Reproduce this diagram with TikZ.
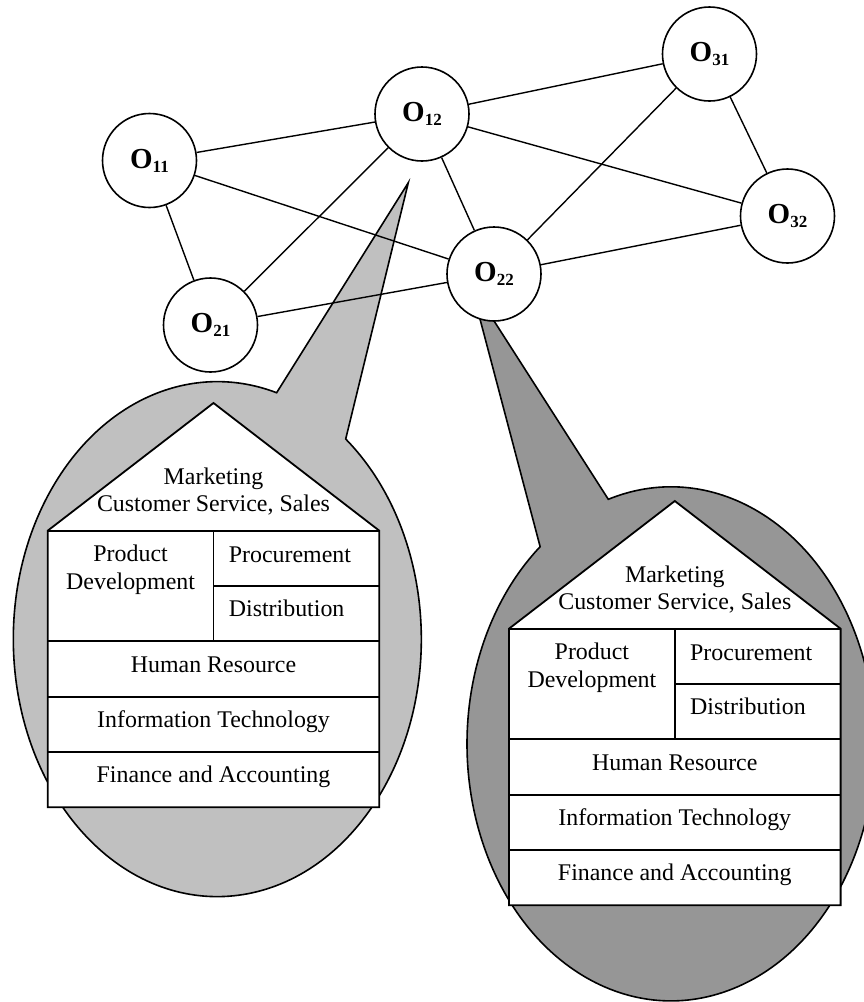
\documentclass[tikz,border=0pt]{standalone}
\usepackage{fontspec}
\setmainfont{Liberation Serif}
\usepackage{tikz}
\definecolor{calllight}{HTML}{C0C0C0}
\definecolor{calldark}{HTML}{969696}

\newcommand{\oname}[1]{O\raisebox{-4pt}{\fontsize{17}{17}\selectfont #1}}

\tikzset{
  orghouse/.pic={
    % roof and outer frame
    \draw[unitline, fill=white] (0,0) -- (165.8,-127.7) -- (331.6,0) -- (331.6,276.5) -- (0,276.5) -- cycle;
    \draw[unitline] (0,0) -- (331.6,0);
    \draw[unitline] (165.8,0) -- (165.8,110.6);
    \draw[unitline] (165.8,55.3) -- (331.6,55.3);
    \foreach \y in {110.6,165.9,221.2} {
        \draw[unitline] (0,\y) -- (331.6,\y);
    }
    \node[deptext] (-mkt) at (165.8,-46) {Marketing};
    \node[deptext] (-cs) at (165.8,-19) {Customer Service, Sales};
    \node[deptext] (-pd1) at (82.9,31) {Product};
    \node[deptext] (-pd2) at (82.9,59) {Development};
    \node[deptext, anchor=base west] (-proc) at (181,31.6) {Procurement};
    \node[deptext, anchor=base west] (-dist) at (181,85.8) {Distribution};
    \node[deptext] (-hr) at (165.8,141.6) {Human Resource};
    \node[deptext] (-it) at (165.8,196.8) {Information Technology};
    \node[deptext] (-fa) at (165.8,252) {Finance and Accounting};
  }
}

\begin{document}
\begin{tikzpicture}[x=1pt, y=-1pt,
  org/.style={circle, draw, fill=white, line width=1.6pt, minimum size=94pt, inner sep=0pt,
              font=\fontsize{29}{29}\selectfont\bfseries},
  link/.style={line width=1.4pt},
  bubble/.style={draw, line width=1.6pt, line join=miter},
  unitline/.style={line width=1.8pt},
  deptext/.style={font=\fontsize{23.9}{28}\selectfont, inner sep=0pt, anchor=base}]
\useasboundingbox (0,0) rectangle (863,1002);

% Callout of O12
\coordinate (tipL) at (408.3,182.7);
\coordinate (baseL) at (345.7,439);
\draw[bubble, fill=calllight] (tipL) -- (baseL)
    arc[start angle=-51, end angle=286.9, x radius=204, y radius=257.5] -- cycle;
\pic (hl) at (47.7,530.7) {orghouse};

% Callout of O22
\coordinate (tipR) at (471,285);
\coordinate (baseR) at (608.3,499.3);
\draw[bubble, fill=calldark] (tipR) -- (baseR)
    arc[start angle=252.1, end angle=590.1, x radius=204, y radius=257] -- cycle;
\pic (hr) at (509,628.7) {orghouse};

% Organisations
\node[org] (o11) at (149.5,160.5) {\oname{11}};
\node[org] (o12) at (422,114) {\oname{12}};
\node[org] (o31) at (709.5,54) {\oname{31}};
\node[org] (o32) at (787.5,216) {\oname{32}};
\node[org] (o22) at (494,274) {\oname{22}};
\node[org] (o21) at (210.5,325) {\oname{21}};

% Links
\foreach \a/\b in {o11/o12, o11/o21, o11/o22, o12/o21, o12/o22, o12/o31,
                   o12/o32, o31/o32, o31/o22, o21/o22, o22/o32} {
    \draw[link] (\a) -- (\b);
}
\end{tikzpicture}
\end{document}
